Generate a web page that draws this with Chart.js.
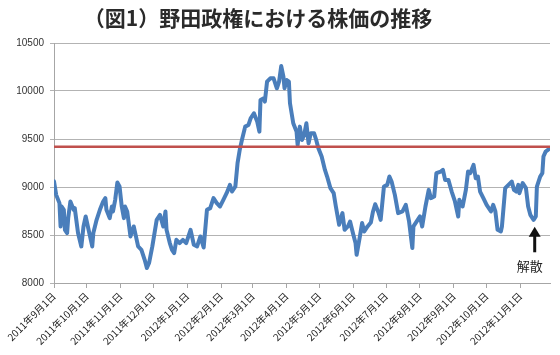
<!DOCTYPE html>
<html>
<head>
<meta charset="utf-8">
<script src="https://cdn.jsdelivr.net/npm/chart.js@4"></script>
<style>
  html, body { margin:0; padding:0; background:#fff; }
  #wrap { position:relative; width:560px; height:355px; }
  #c { position:absolute; left:0; top:0; }
  #title { position:absolute; left:0; top:7px; width:516px; text-align:center;
           font:bold 21px/21px "Noto Sans CJK JP", sans-serif; color:#2a2a2a; }
</style>
</head>
<body>
<div id="wrap">
  <canvas id="c" width="560" height="355"></canvas>
  <div id="title">（図1）野田政権における株価の推移</div>
</div>
<script>
/* ---- data ---- */
const START = '2011-09-01';
const END_DAY = 454;            // right edge of the date axis, days from START
const RED_LEVEL = 9420;         // red reference line
const DISSOLUTION_DATE = '2012-11-14';
const DISSOLUTION_LABEL = '解散';

const dates = [
  '2011-09-01','2011-09-03','2011-09-06','2011-09-07','2011-09-08','2011-09-10','2011-09-11','2011-09-13','2011-09-14','2011-09-16','2011-09-19','2011-09-20','2011-09-23','2011-09-26','2011-09-28','2011-09-30',
  '2011-10-02','2011-10-06','2011-10-07','2011-10-10','2011-10-13','2011-10-16','2011-10-18','2011-10-19','2011-10-22','2011-10-24','2011-10-25','2011-10-27','2011-10-29','2011-10-31',
  '2011-11-02','2011-11-04','2011-11-05','2011-11-07','2011-11-10','2011-11-13','2011-11-15','2011-11-17','2011-11-20','2011-11-23','2011-11-25','2011-11-27','2011-11-30',
  '2011-12-02','2011-12-04','2011-12-07','2011-12-10','2011-12-12','2011-12-13','2011-12-16','2011-12-18','2011-12-20','2011-12-22','2011-12-25','2011-12-28','2011-12-31',
  '2012-01-04','2012-01-07','2012-01-10','2012-01-13','2012-01-16','2012-01-19','2012-01-22','2012-01-25','2012-01-28','2012-01-31',
  '2012-02-03','2012-02-06','2012-02-09','2012-02-11','2012-02-14','2012-02-16','2012-02-18','2012-02-20','2012-02-23','2012-02-26','2012-02-28',
  '2012-03-02','2012-03-05','2012-03-07','2012-03-08','2012-03-11','2012-03-12','2012-03-14','2012-03-17','2012-03-20','2012-03-23','2012-03-25','2012-03-27','2012-03-29','2012-03-30',
  '2012-04-01','2012-04-03','2012-04-04','2012-04-07','2012-04-10','2012-04-11','2012-04-13','2012-04-15','2012-04-17','2012-04-19','2012-04-21','2012-04-23','2012-04-26','2012-04-28','2012-04-30',
  '2012-05-03','2012-05-06','2012-05-08','2012-05-11','2012-05-14','2012-05-16','2012-05-19','2012-05-22','2012-05-24','2012-05-27','2012-05-29',
  '2012-06-01','2012-06-03','2012-06-04','2012-06-07','2012-06-09','2012-06-11','2012-06-14','2012-06-17','2012-06-19','2012-06-21','2012-06-24','2012-06-26','2012-06-29',
  '2012-07-02','2012-07-04','2012-07-06','2012-07-09','2012-07-12','2012-07-16','2012-07-19','2012-07-22','2012-07-25','2012-07-26','2012-07-29',
  '2012-08-01','2012-08-03','2012-08-06','2012-08-09','2012-08-11','2012-08-14','2012-08-16','2012-08-20','2012-08-22','2012-08-24','2012-08-27','2012-08-30',
  '2012-09-02','2012-09-05','2012-09-06','2012-09-09','2012-09-12','2012-09-14','2012-09-16','2012-09-19','2012-09-21','2012-09-23','2012-09-25','2012-09-28',
  '2012-10-01','2012-10-05','2012-10-07','2012-10-09','2012-10-11','2012-10-14','2012-10-15','2012-10-18','2012-10-21','2012-10-24','2012-10-26','2012-10-28','2012-10-30','2012-10-31',
  '2012-11-03','2012-11-06','2012-11-08','2012-11-10','2012-11-13','2012-11-15','2012-11-16','2012-11-19','2012-11-21','2012-11-22','2012-11-24','2012-11-27'
];
const prices = [
  9060,8918,8832,8589,8797,8762,8554,8520,8676,8849,8762,8780,8520,8381,8589,8693,
  8589,8381,8520,8658,8762,8849,8884,8762,8676,8797,8745,8866,9046,9005,
  8797,8676,8797,8745,8485,8589,8485,8381,8346,8242,8156,8208,8381,
  8520,8658,8710,8589,8745,8554,8416,8346,8312,8450,8416,8450,8416,
  8554,8398,8381,8485,8370,8762,8780,8884,8832,8797,
  8866,8936,9022,8953,9005,9248,9386,9490,9629,9646,9716,
  9768,9681,9577,9906,9924,9889,10097,10132,10132,10028,10097,10260,10149,10028,
  10114,10097,9872,9664,9577,9438,9629,9490,9542,9664,9456,9560,9560,9490,9404,
  9317,9178,9109,8988,8936,8797,8606,8728,8554,8589,8641,
  8502,8416,8294,8485,8624,8537,8589,8630,8745,8820,8735,8658,9005,
  9022,9109,9057,8918,8728,8745,8814,8641,8364,8589,8641,
  8693,8589,8797,8970,8884,8901,9144,9161,9178,9074,9074,8953,
  8849,8693,8866,8797,8970,9161,9144,9230,9092,9109,8953,8884,
  8814,8745,8814,8745,8554,8537,8589,8988,9022,9057,8970,8953,9022,8936,
  9040,8988,8797,8710,8658,8693,9005,9109,9144,9317,9369,9394
];

const tickDates = ['2011-09-01','2011-10-01','2011-11-01','2011-12-01','2012-01-01','2012-02-01','2012-03-01','2012-04-01',
  '2012-05-01','2012-06-01','2012-07-01','2012-08-01','2012-09-01','2012-10-01','2012-11-01'];
const tickLabels = ['2011年9月1日','2011年10月1日','2011年11月1日','2011年12月1日','2012年1月1日','2012年2月1日','2012年3月1日','2012年4月1日',
  '2012年5月1日','2012年6月1日','2012年7月1日','2012年8月1日','2012年9月1日','2012年10月1日','2012年11月1日'];

/* ---- helpers ---- */
const DAY = 86400000;
const dayOf = (s) => Math.round((Date.parse(s) - Date.parse(START)) / DAY);

// arrow + 解散 label at the dissolution date
const dissolutionMark = {
  id: 'dissolution',
  afterDraw(chart) {
    const { ctx, scales: { x, y } } = chart;
    const px = x.getPixelForValue(dayOf(DISSOLUTION_DATE));
    const top = y.getPixelForValue(8585), bot = y.getPixelForValue(8320);
    ctx.save();
    ctx.fillStyle = '#111'; ctx.strokeStyle = '#111';
    ctx.lineWidth = 3;
    ctx.beginPath(); ctx.moveTo(px, top + 6); ctx.lineTo(px, bot); ctx.stroke();
    ctx.beginPath(); ctx.moveTo(px, top); ctx.lineTo(px - 6, top + 10); ctx.lineTo(px + 6, top + 10); ctx.closePath(); ctx.fill();
    ctx.font = '13px "Noto Sans CJK JP", sans-serif';
    ctx.fillStyle = '#222'; ctx.textAlign = 'center'; ctx.textBaseline = 'middle';
    ctx.fillText(DISSOLUTION_LABEL, px - 5, y.getPixelForValue(8175));
    ctx.restore();
  }
};

new Chart(document.getElementById('c'), {
  type: 'line',
  data: {
    datasets: [
      { data: dates.map((d, i) => ({ x: dayOf(d), y: prices[i] })),
        borderColor: '#4a7ebb', borderWidth: 4, pointRadius: 0, tension: 0, order: 1,
        borderJoinStyle: 'round', borderCapStyle: 'round' },
      { data: [{ x: 0, y: RED_LEVEL }, { x: END_DAY, y: RED_LEVEL }],
        borderColor: '#c0504d', borderWidth: 2.5, pointRadius: 0, order: 0 },
    ]
  },
  options: {
    responsive: false, animation: false, devicePixelRatio: 1,
    layout: { padding: { top: 43, right: 10, left: 0, bottom: 0 } },
    plugins: { legend: { display: false }, tooltip: { enabled: false } },
    scales: {
      x: {
        type: 'linear', min: 0, max: END_DAY,
        afterBuildTicks: (s) => { s.ticks = tickDates.map((d) => ({ value: dayOf(d) })); },
        afterFit: (s) => { s.height = 72; },
        ticks: { autoSkip: false, maxRotation: 45, minRotation: 45, padding: 2,
                 color: '#222', font: { family: '"Noto Sans CJK JP"', size: 10 },
                 callback: (v, i) => tickLabels[i] },
        grid: { drawOnChartArea: false, drawTicks: true, tickLength: 5, color: '#a6a6a6' },
        border: { color: '#a6a6a6' }
      },
      y: {
        min: 8000, max: 10500,
        afterFit: (s) => { s.width = 54; },
        ticks: { stepSize: 500, padding: 6, color: '#333', font: { family: '"Liberation Sans"', size: 10 },
                 callback: (v) => String(v) },
        grid: { color: '#b3b3b3', tickLength: 4 },
        border: { color: '#a6a6a6' }
      }
    }
  },
  plugins: [dissolutionMark]
});
</script>
</body>
</html>
